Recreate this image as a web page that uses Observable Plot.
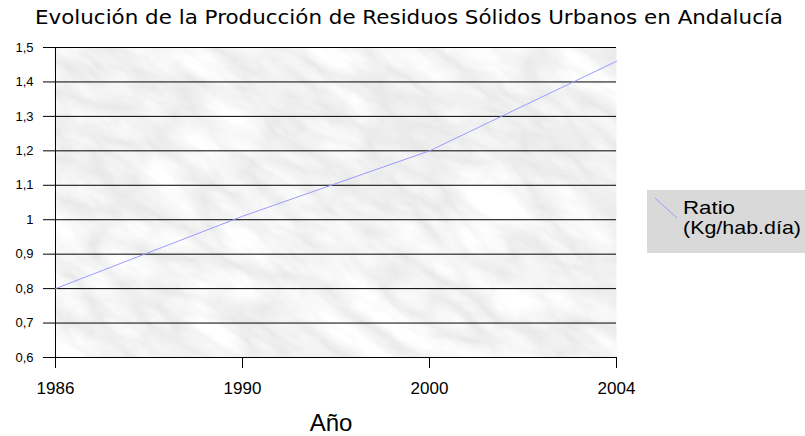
<!DOCTYPE html>
<html>
<head>
<meta charset="utf-8">
<script src="https://cdn.jsdelivr.net/npm/d3@7"></script>
<script src="https://cdn.jsdelivr.net/npm/@observablehq/plot@0.6"></script>
<style>
  html, body { margin: 0; padding: 0; background: #fff; }
  #chart { width: 805px; height: 436px; }
</style>
</head>
<body>
<div id="chart"></div>
<script>
const titleText = "Evolución de la Producción de Residuos Sólidos Urbanos en Andalucía";
const xLabel = "Año";
const seriesName = ["Ratio", "(Kg/hab.día)"];
const years = ["1986", "1990", "2000", "2004"];
const ratio = [0.80, 1.01, 1.20, 1.46];
const yTicks = [0.6, 0.7, 0.8, 0.9, 1.0, 1.1, 1.2, 1.3, 1.4, 1.5];

const data = years.map((y, i) => ({year: y, ratio: ratio[i]}));
const fmt = d => String(+d.toFixed(1)).replace(".", ",");

const chart = Plot.plot({
  width: 805,
  height: 436,
  marginTop: 47,
  marginBottom: 79,
  marginLeft: 54,
  marginRight: 189,
  style: {fontFamily: "'Liberation Sans', Arial, sans-serif", background: "transparent", color: "#000", overflow: "visible"},
  x: {type: "point", domain: years, padding: 0, label: null},
  y: {domain: [0.6, 1.5], label: null},
  marks: [
    Plot.frame({fill: "#dedede", stroke: null}),
    Plot.ruleY(yTicks, {stroke: "#000", strokeWidth: 1}),
    Plot.ruleX([years[0]], {stroke: "#000", strokeWidth: 1}),
    Plot.line(data, {x: "year", y: "ratio", stroke: "#9b9bff", strokeWidth: 1}),
    Plot.axisX({tickSize: 11, tickPadding: 13, fontSize: 17, label: null, stroke: "#000"}),
    Plot.axisY(yTicks, {tickSize: 11, tickPadding: 10, fontSize: 13, tickFormat: fmt, label: null, stroke: "#000"})
  ]
});
document.getElementById("chart").appendChild(chart);

// marble-like texture for the plot background (decorative)
const svg = d3.select(chart);
const defs = svg.insert("defs", ":first-child");
const f = defs.append("filter").attr("id", "marble")
  .attr("filterUnits", "objectBoundingBox").attr("x", 0).attr("y", 0).attr("width", 1).attr("height", 1);
f.append("feTurbulence").attr("type", "turbulence").attr("baseFrequency", "0.011 0.026")
  .attr("numOctaves", 4).attr("seed", 11).attr("result", "t");
f.append("feColorMatrix").attr("in", "t").attr("type", "matrix")
  .attr("values", "0.30 0 0 0 0.80  0.30 0 0 0 0.80  0.30 0 0 0 0.80  0 0 0 0 1");
const pat = defs.append("pattern").attr("id", "marblePat")
  .attr("patternUnits", "userSpaceOnUse").attr("x", 0).attr("y", 0)
  .attr("width", 1400).attr("height", 1400)
  .attr("patternTransform", "translate(-300,-500) rotate(32)");
pat.append("rect").attr("width", 1400).attr("height", 1400).attr("fill", "#dedede").attr("filter", "url(#marble)");
svg.selectAll("rect[aria-label=frame], [aria-label=frame] rect").attr("fill", "url(#marblePat)");

const common = "'Liberation Sans', Arial, sans-serif";

// title
svg.append("text")
  .attr("x", 409).attr("y", 24)
  .attr("text-anchor", "middle")
  .attr("font-family", "'DejaVu Sans', Verdana, sans-serif")
  .attr("font-size", 19)
  .attr("textLength", 748).attr("lengthAdjust", "spacingAndGlyphs")
  .attr("fill", "#000")
  .text(titleText);

// x axis label
svg.append("text")
  .attr("x", 331).attr("y", 431)
  .attr("text-anchor", "middle")
  .attr("font-family", common)
  .attr("font-size", 24)
  .attr("fill", "#000")
  .text(xLabel);

// legend
const lg = svg.append("g").attr("aria-label", "legend").attr("text-anchor", "start");
lg.append("rect").attr("x", 647).attr("y", 190).attr("width", 158).attr("height", 63).attr("fill", "#d9d9d9");
lg.append("line").attr("x1", 655).attr("y1", 198).attr("x2", 677).attr("y2", 218)
  .attr("stroke", "#9b9bff").attr("stroke-width", 1);
lg.append("text").attr("x", 683).attr("y", 214).attr("text-anchor", "start").attr("font-family", common)
  .attr("font-size", 19).attr("textLength", 52).attr("lengthAdjust", "spacingAndGlyphs").attr("fill", "#000").text(seriesName[0]);
lg.append("text").attr("x", 683).attr("y", 234).attr("text-anchor", "start").attr("font-family", common)
  .attr("font-size", 19).attr("textLength", 118).attr("lengthAdjust", "spacingAndGlyphs").attr("fill", "#000").text(seriesName[1]);
</script>
</body>
</html>
